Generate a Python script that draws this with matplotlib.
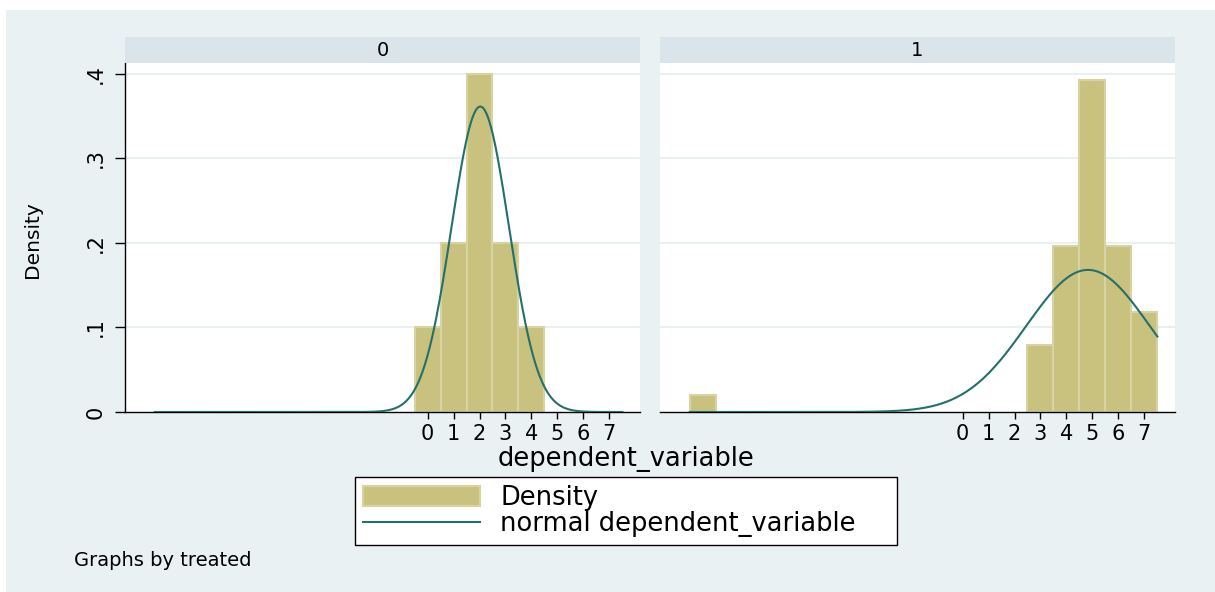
import numpy as np
import matplotlib
matplotlib.use("Agg")
import matplotlib.pyplot as plt
from matplotlib.patches import Rectangle, Patch
from matplotlib.lines import Line2D

plt.rcParams['font.family'] = ['DejaVu Sans']

# ---- data ----
panel_titles = ["0", "1"]
bins0_centers = [0, 1, 2, 3, 4]
bins0_density = [0.10, 0.20, 0.40, 0.20, 0.10]
bins1_centers = [-10, 3, 4, 5, 6, 7]
bins1_density = [0.020, 0.079, 0.196, 0.392, 0.196, 0.118]
normal_mean = [2.03, 4.83]
normal_sd = [1.105, 2.375]
curve_range = [-10.5, 7.5]
xtick_vals = [0, 1, 2, 3, 4, 5, 6, 7]
ytick_vals = [0, 0.1, 0.2, 0.3, 0.4]
ytick_labels = ["0", ".1", ".2", ".3", ".4"]

W, H = 1215, 592
fig = plt.figure(figsize=(W / 100, H / 100), dpi=100)
fig.patch.set_facecolor("white")

BG = "#eaf1f3"
STRIP = "#d9e5eb"
GRID = "#e9f0f2"
BAR = "#c9c27f"
BAR_EDGE = "#d8d3a2"
LINE = "#24706a"

fig.add_artist(Rectangle((6 / W, 0), 1 - 6 / W, 1 - 10 / H, transform=fig.transFigure,
                         facecolor=BG, edgecolor="none", zorder=-10))

def fx(px):
    return px / W

def fy(py):
    return 1 - py / H

ax_bottom = fy(412)
ax_h = (412 - 63) / H
ax_w = 515 / W
lefts = [125, 660]
centers_list = [bins0_centers, bins1_centers]
dens_list = [bins0_density, bins1_density]

axes = []
for i in range(2):
    ax = fig.add_axes([fx(lefts[i]), ax_bottom, ax_w, ax_h])
    ax.set_facecolor("white")
    ax.bar(centers_list[i], dens_list[i], width=1.0, color=BAR, edgecolor=BAR_EDGE,
           linewidth=1.5, zorder=2)
    xs = np.linspace(curve_range[0], curve_range[1], 600)
    m, s = normal_mean[i], normal_sd[i]
    ys = np.exp(-0.5 * ((xs - m) / s) ** 2) / (s * np.sqrt(2 * np.pi))
    ax.plot(xs, ys, color=LINE, lw=1.5, zorder=3)
    ax.set_xlim(-11.65, 8.18)
    ax.set_ylim(0, 0.4125)
    ax.set_yticks(ytick_vals)
    for yv in ytick_vals[1:]:
        ax.axhline(yv, color=GRID, lw=1.5, zorder=1)
    ax.set_xticks(xtick_vals)
    ax.set_xticklabels([str(v) for v in xtick_vals], fontsize=15)
    ax.tick_params(axis="x", length=5, width=1, pad=4, color="black")
    for sp in ["top", "right"]:
        ax.spines[sp].set_visible(False)
    ax.spines["bottom"].set_linewidth(1)
    ax.spines["bottom"].set_color("black")
    if i == 0:
        ax.set_yticklabels(ytick_labels, fontsize=15, rotation=90, va="center")
        ax.tick_params(axis="y", length=7, width=1, pad=7)
        ax.spines["left"].set_linewidth(1)
        ax.spines["left"].set_color("black")
    else:
        ax.spines["left"].set_visible(False)
        ax.tick_params(axis="y", left=False, labelleft=False)
    # strip header
    strip_h = 26 / (412 - 63)
    ax.add_patch(Rectangle((0, 1), 1, strip_h, transform=ax.transAxes, facecolor=STRIP,
                           edgecolor="none", clip_on=False, zorder=5))
    ax.text(0.5, 1 + strip_h / 2, panel_titles[i], transform=ax.transAxes,
            ha="center", va="center", fontsize=14, zorder=6)
    axes.append(ax)

fig.text(fx(626), fy(459), "dependent_variable", ha="center", va="center", fontsize=18.5)
fig.text(fx(33), fy(240), "Density", ha="center", va="center", rotation=90, fontsize=14.5)
fig.text(fx(74), fy(561), "Graphs by treated", ha="left", va="center", fontsize=14)

handles = [Patch(facecolor=BAR, edgecolor=BAR_EDGE, linewidth=1.5),
           Line2D([0], [0], color=LINE, lw=1.5)]
labels = ["Density", "normal dependent_variable"]
leg = fig.legend(handles, labels, loc="upper left",
                 bbox_to_anchor=(fx(355), fy(543), 542 / W, 66 / H),
                 mode="expand", ncol=1, fontsize=18.5, frameon=True, fancybox=False,
                 edgecolor="black", facecolor="white", framealpha=1,
                 handlelength=4.55, handleheight=0.85, handletextpad=0.8,
                 labelspacing=0.02, borderpad=0.3, borderaxespad=0)
leg.get_frame().set_linewidth(1)

fig.savefig("out.png", dpi=100)
